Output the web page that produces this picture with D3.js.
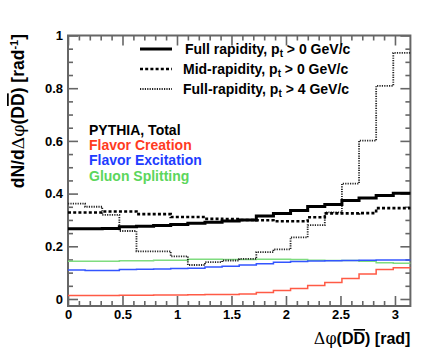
<!DOCTYPE html>
<html>
<head>
<meta charset="utf-8">
<script src="https://cdn.jsdelivr.net/npm/d3@7"></script>
<style>
  body { margin: 0; background: #fff; }
  text { font-family: "Liberation Sans", Arial, sans-serif; font-weight: bold; }
</style>
</head>
<body>
<svg id="chart" width="436" height="348"></svg>
<script>
  // 20 bins of width pi/20 from 0 to pi
  const nBins = 20
  const fullPt0 = [0.267, 0.267, 0.268, 0.274, 0.276, 0.279, 0.283, 0.287, 0.291, 0.296,
                   0.300, 0.315, 0.324, 0.336, 0.351, 0.359, 0.374, 0.383, 0.393, 0.401]
  const midPt0 = [0.328, 0.328, 0.332, 0.332, 0.322, 0.322, 0.311, 0.311, 0.304, 0.303,
                  0.300, 0.299, 0.295, 0.295, 0.310, 0.325, 0.325, 0.326, 0.345, 0.345]
  const fullPt4 = [0.362, 0.350, 0.319, 0.258, 0.181, 0.181, 0.162, 0.129, 0.140, 0.146,
                   0.152, 0.178, 0.188, 0.234, 0.280, 0.329, 0.438, 0.601, 0.809, 0.934]
  const flavorCreation = [0.013, 0.013, 0.013, 0.014, 0.014, 0.015, 0.015, 0.016, 0.017, 0.017,
                          0.019, 0.025, 0.032, 0.040, 0.051, 0.063, 0.078, 0.095, 0.112, 0.119]
  const flavorExcitation = [0.110, 0.108, 0.108, 0.112, 0.113, 0.114, 0.116, 0.117, 0.121, 0.124,
                            0.129, 0.134, 0.139, 0.142, 0.144, 0.145, 0.146, 0.147, 0.148, 0.148]
  const gluonSplitting = [0.143, 0.143, 0.143, 0.145, 0.145, 0.147, 0.147, 0.151, 0.151, 0.150,
                          0.150, 0.151, 0.151, 0.150, 0.147, 0.146, 0.146, 0.143, 0.138, 0.136]

  const legendLabels = [["Full rapidity, p", "t", " > 0 GeV/c"],
                        ["Mid-rapidity, p", "t", " > 0 GeV/c"],
                        ["Full-rapidity, p", "t", " > 4 GeV/c"]]
  const sourceLabels = ["PYTHIA, Total", "Flavor Creation", "Flavor Excitation", "Gluon Splitting"]
  const sourceColors = ["#000000", "#ff3b1f", "#1e3cff", "#5cd65c"]

  const xMajor = [0, 0.5, 1, 1.5, 2, 2.5, 3]
  const yMajor = [0, 0.2, 0.4, 0.6, 0.8, 1]

  const svg = d3.select("#chart")
  const frame = { left: 68, right: 410.4, top: 35.5, bottom: 306 }

  const x = d3.scaleLinear().domain([0, Math.PI]).range([frame.left, frame.right])
  const y = d3.scaleLinear().domain([-0.0266, 1]).range([frame.bottom, frame.top])

  const binWidth = Math.PI / nBins
  const stepLine = d3.line().x(d => x(d[0])).y(d => y(d[1])).curve(d3.curveStepAfter)
  const toPoints = vals => {
    let pts = vals.map((v, i) => [i * binWidth, v])
    pts.push([Math.PI, vals[vals.length - 1]])
    return pts
  }

  // axes: inward ticks on all four sides
  const xMinor = d3.range(0, 31).map(i => i / 10).filter(v => !xMajor.includes(v))
  const yMinor = d3.range(0, 21).map(i => i / 20).filter(v => !yMajor.some(m => Math.abs(m - v) < 1e-9))
  const fmt = d => String(+d.toFixed(1))
  const axisColor = "#666"

  const addAxis = (axis, tx, ty, labels) => {
    const g = svg.append("g").attr("transform", `translate(${tx}, ${ty})`).call(axis)
    g.select(".domain").remove()
    g.selectAll(".tick line").attr("stroke", axisColor).attr("stroke-width", 1.6)
    g.selectAll(".tick text").attr("fill", "#000").style("font-size", "13px")
    if (!labels) g.selectAll(".tick text").remove()
    return g
  }

  addAxis(d3.axisBottom(x).tickValues(xMajor).tickSize(-10).tickPadding(4).tickFormat(fmt), 0, frame.bottom, true)
  addAxis(d3.axisBottom(x).tickValues(xMinor).tickSize(-5), 0, frame.bottom, false)
  addAxis(d3.axisTop(x).tickValues(xMajor).tickSize(-10), 0, frame.top, false)
  addAxis(d3.axisTop(x).tickValues(xMinor).tickSize(-5), 0, frame.top, false)
  addAxis(d3.axisLeft(y).tickValues(yMajor).tickSize(-10).tickPadding(5).tickFormat(fmt), frame.left, 0, true)
  addAxis(d3.axisLeft(y).tickValues(yMinor).tickSize(-5), frame.left, 0, false)
  addAxis(d3.axisRight(y).tickValues(yMajor).tickSize(-10), frame.right, 0, false)
  addAxis(d3.axisRight(y).tickValues(yMinor).tickSize(-5), frame.right, 0, false)

  svg.append("rect")
    .attr("x", frame.left).attr("y", frame.top)
    .attr("width", frame.right - frame.left).attr("height", frame.bottom - frame.top)
    .attr("fill", "none").attr("stroke", axisColor).attr("stroke-width", 2)

  // histograms
  const series = [
    { vals: gluonSplitting, color: "#7fdc7f", width: 1.5, dash: null },
    { vals: flavorExcitation, color: "#3355ff", width: 1.5, dash: null },
    { vals: flavorCreation, color: "#ff5a45", width: 1.5, dash: null },
    { vals: fullPt4, color: "#222", width: 1.8, dash: "1.2,1.2" },
    { vals: midPt0, color: "#000", width: 2.6, dash: "3,2.2" },
    { vals: fullPt0, color: "#000", width: 3, dash: null }
  ]
  svg.append("g").selectAll("path").data(series).join("path")
    .attr("d", d => stepLine(toPoints(d.vals)))
    .attr("fill", "none")
    .attr("stroke", d => d.color)
    .attr("stroke-width", d => d.width)
    .attr("stroke-dasharray", d => d.dash)

  // legend for the black curves
  const legendStyles = [series[5], series[4], series[3]]
  const legend = svg.append("g").selectAll("g").data(legendLabels).join("g")
    .attr("transform", (d, i) => `translate(140, ${49 + i * 20})`)
  legend.append("line")
    .attr("x1", 0).attr("x2", 32).attr("y1", 0).attr("y2", 0)
    .attr("stroke", (d, i) => legendStyles[i].color)
    .attr("stroke-width", (d, i) => legendStyles[i].width)
    .attr("stroke-dasharray", (d, i) => legendStyles[i].dash)
  const lt = legend.append("text").attr("x", (d, i) => i == 0 ? 45 : 43).attr("y", 5).style("font-size", "14px")
  lt.append("tspan").text(d => d[0])
  lt.append("tspan").attr("dy", 3).style("font-size", "10px").text(d => d[1])
  lt.append("tspan").attr("dy", -3).text(d => d[2])

  // production process labels
  svg.append("g").selectAll("text").data(sourceLabels).join("text")
    .attr("x", 89).attr("y", (d, i) => 135 + i * 15.2)
    .attr("fill", (d, i) => sourceColors[i])
    .style("font-size", "14px")
    .text(d => d)

  // axis titles
  const xt = svg.append("text").attr("x", frame.right).attr("y", 344)
    .attr("text-anchor", "end").style("font-size", "16px")
  xt.append("tspan").style("font-weight", "normal").style("font-family", "DejaVu Serif, serif").text("Δφ")
  xt.append("tspan").text("(D")
  xt.append("tspan").style("text-decoration", "overline").text("D")
  xt.append("tspan").text(")  [rad]")

  const yt = svg.append("text").attr("transform", "translate(24, 34) rotate(-90)")
    .attr("text-anchor", "end").style("font-size", "17.5px")
  yt.append("tspan").text("dN/d")
  yt.append("tspan").style("font-weight", "normal").style("font-family", "DejaVu Serif, serif").text("Δφ")
  yt.append("tspan").text("(D")
  yt.append("tspan").style("text-decoration", "overline").text("D")
  yt.append("tspan").text(") [rad")
  yt.append("tspan").attr("dy", -6).style("font-size", "11px").text("-1")
  yt.append("tspan").attr("dy", 6).text("]")
</script>
</body>
</html>
